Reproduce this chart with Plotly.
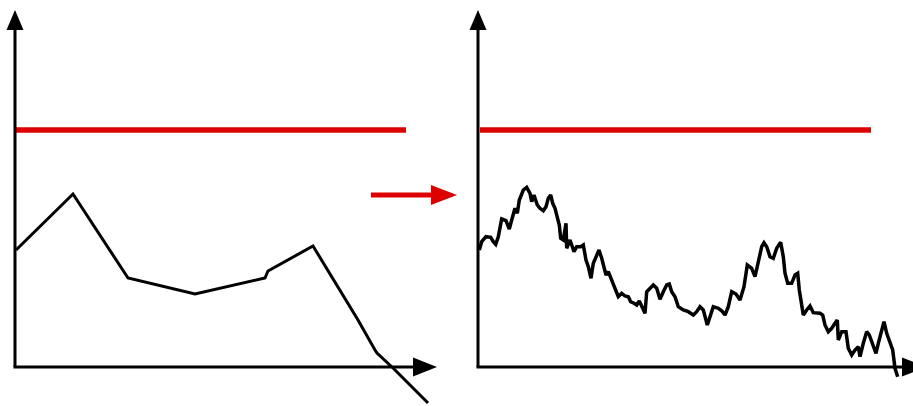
import plotly.graph_objects as go

# ---- data (in chart units: time along x, value along y) ----
left_t = [1, 58, 113, 180, 250, 253, 298, 343, 360, 362, 378, 413]
left_v = [117, 173, 89, 73, 89, 96, 121, 47, 17, 14, -1, -36]

right_t = [1.3, 3.7, 8, 12.7, 15.3, 17.7, 20.3, 23.7, 28, 31.3, 33.7, 37, 39.3, 41.3, 45.3, 48.7,
           52, 53.7, 56, 59.3, 62, 65.3, 68, 70.3, 72.7, 74.7, 77, 79.3, 81.3, 82.7, 85.3, 88,
           88.7, 92, 96, 98.7, 102.7, 105.3, 108, 110.3, 113, 115.3, 118, 121, 123.7, 126, 128,
           130.3, 132.7, 134.7, 137, 140.3, 143.7, 147, 150.3, 152.7, 156, 158.7, 161.3, 163.7,
           167, 168.7, 172, 175.3, 178.7, 182, 185.3, 188.7, 191.3, 193.7, 197, 200.3, 205.3,
           210.3, 215.3, 218.7, 222, 225.3, 229.3, 232, 235.3, 240.3, 243.7, 247, 250.3, 253.7,
           258, 262, 266, 269.3, 273.7, 277, 280.3, 283.7, 286, 288.7, 292, 295.3, 298.7, 302.7,
           305.3, 307, 309.7, 313.7, 317, 319.7, 321.3, 323.7, 325.3, 328.7, 332, 335.3, 342,
           344.7, 347, 350.3, 353.7, 357, 359.3, 360.3, 363.7, 368, 370.3, 373.7, 377, 380.3,
           382, 385.3, 388.7, 391.3, 395.3, 398, 400.3, 402.7, 406, 408.7, 412, 414.7, 417, 419.7]
right_v = [117, 125.3, 130.3, 129.7, 125.3, 122.7, 130.3, 148, 146.3, 138, 147, 158.7, 153.7, 167,
           177, 179.7, 173.7, 165.3, 172, 162, 158.7, 156.3, 160.3, 168.7, 172, 163.7, 158.7,
           150.3, 142, 128.7, 127, 143.7, 118.7, 127, 115.3, 120.3, 120.3, 122, 107, 100.3, 88.7,
           103.7, 110.3, 117, 108.7, 100.3, 92, 95.3, 88.7, 85.3, 77, 70.3, 73.7, 71, 70.3, 65.3,
           63.7, 62, 66, 60.3, 53.7, 75.3, 78.7, 82, 78.7, 67.7, 75.3, 82, 83, 75.3, 70.3, 60.3,
           57, 55.3, 52, 55.3, 60.3, 57, 42, 50.3, 60.3, 58.7, 56.3, 52, 60.3, 75.3, 73, 67, 80.3,
           102, 98.7, 90.3, 107, 120.3, 124.3, 120.3, 110.3, 108.7, 118.7, 124.7, 110.3, 93.7,
           83.7, 83.7, 92, 93.7, 77, 60.3, 52, 57, 61, 54.3, 53.7, 52, 42, 35.3, 38.7, 43.7, 47,
           27, 35.3, 35.3, 18.7, 12, 17, 20.3, 10.3, 23.7, 35.3, 32, 20.3, 13.7, 23.7, 33.7, 45.3,
           33.7, 23.7, 17, -1.3, -9.7]

target_level = 237
left_target_span = [1, 391]
right_target_span = [2, 393]

BLACK = "#000000"
RED = "#dd0000"

fig = go.Figure()

# left panel: target level + coarse path
fig.add_trace(go.Scatter(x=left_target_span, y=[target_level] * 2, mode="lines",
                         line=dict(color=RED, width=5.5), xaxis="x", yaxis="y"))
fig.add_trace(go.Scatter(x=left_t, y=left_v, mode="lines",
                         line=dict(color=BLACK, width=3), xaxis="x", yaxis="y"))
# right panel: target level + detailed path
fig.add_trace(go.Scatter(x=right_target_span, y=[target_level] * 2, mode="lines",
                         line=dict(color=RED, width=5.5), xaxis="x2", yaxis="y"))
fig.add_trace(go.Scatter(x=right_t, y=right_v, mode="lines",
                         line=dict(color=BLACK, width=3.5), xaxis="x2", yaxis="y"))

shapes = []


def axes_shapes(xref):
    s = []
    # vertical axis
    s.append(dict(type="line", xref=xref, yref="y", x0=0, x1=0, y0=0, y1=340,
                  line=dict(color=BLACK, width=3)))
    s.append(dict(type="path", xref=xref, yref="y", path="M -8.5 337 L 8.5 337 L 0 357 Z",
                  fillcolor=BLACK, line=dict(width=0)))
    return s


shapes += axes_shapes("x")
shapes += axes_shapes("x2")
# horizontal axes
shapes.append(dict(type="line", xref="x", yref="y", x0=-1.5, x1=400, y0=0, y1=0,
                   line=dict(color=BLACK, width=3)))
shapes.append(dict(type="path", xref="x", yref="y", path="M 398 9.5 L 398 -9.5 L 422 0 Z",
                   fillcolor=BLACK, line=dict(width=0)))
shapes.append(dict(type="line", xref="x2", yref="y", x0=-1.5, x1=426, y0=0, y1=0,
                   line=dict(color=BLACK, width=3)))
shapes.append(dict(type="path", xref="x2", yref="y", path="M 424 9.5 L 424 -9.5 L 448 0 Z",
                   fillcolor=BLACK, line=dict(width=0)))
# red transition arrow between panels
shapes.append(dict(type="line", xref="x", yref="y", x0=356, x1=418, y0=172, y1=172,
                   line=dict(color=RED, width=5)))
shapes.append(dict(type="path", xref="x", yref="y", path="M 416 182 L 416 162 L 442 172 Z",
                   fillcolor=RED, line=dict(width=0)))

fig.update_layout(
    width=913, height=406,
    margin=dict(l=0, r=0, t=0, b=0),
    paper_bgcolor="white", plot_bgcolor="white",
    showlegend=False, hovermode=False,
    xaxis=dict(range=[-15, 898], visible=False, domain=[0, 1]),
    xaxis2=dict(range=[-478, 435], visible=False, overlaying="x", domain=[0, 1]),
    yaxis=dict(range=[-39, 367], visible=False),
    shapes=shapes,
)

# remove the browser's default body margin so the figure fills the window exactly
fig.write_html(
    "out.html",
    post_script="document.body.style.margin='0';document.body.style.overflow='hidden';",
    config={"displayModeBar": False},
)
